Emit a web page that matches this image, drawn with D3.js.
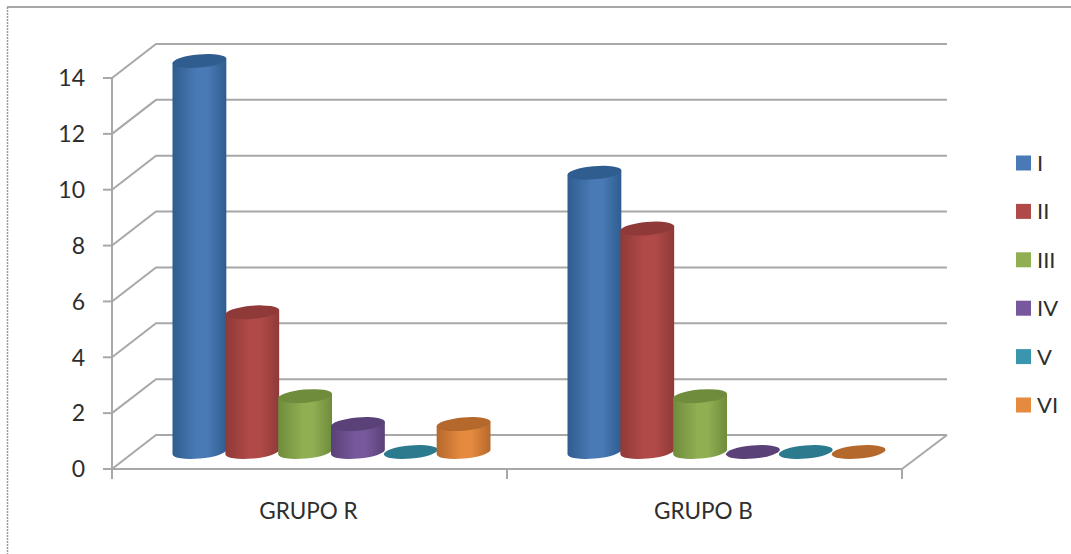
<!DOCTYPE html>
<html>
<head>
<meta charset="utf-8">
<script src="https://cdnjs.cloudflare.com/ajax/libs/d3/7.8.5/d3.min.js"></script>
<style>
  html, body { margin: 0; padding: 0; background: #fff; }
  svg { display: block; }
  text { font-family: Lato, "Open Sans", sans-serif; fill: #2e2e2e; }
</style>
</head>
<body>
<svg id="chart" width="1071" height="554"></svg>
<script>
// Chart data
const groups = ["GRUPO R", "GRUPO B"];
const seriesNames = ["I", "II", "III", "IV", "V", "VI"];
const grupoR = [14, 5, 2, 1, 0, 1];
const grupoB = [10, 8, 2, 0, 0, 0];
const yTicks = [0, 2, 4, 6, 8, 10, 12, 14];

// Series colours: legend/side tone and the darker cap tone
const sideColors = ["#4a7ab5", "#b04a48", "#90ae52", "#77589c", "#3a96ae", "#e58a3e"];
const capColors = ["#2f5d90", "#8f3a38", "#6f8c3c", "#5a4178", "#2c7a8e", "#b5682c"];

const svg = d3.select("#chart");

// Oblique projection: front plane plus a depth offset for the back wall
const depthX = 44, depthY = -34;
const x = d3.scaleBand().domain(groups).range([112, 902]);
const y = d3.scaleLinear().domain([0, 14]).range([469, 78]);
const inner = d3.scaleBand().domain(seriesNames).range([39, 356]);
const gridColor = "#a8a8a8";
const axisBottom = y(0) + 10;

// Outer chart frame (top and left edges only)
svg.append("line").attr("x1", 7).attr("x2", 1071).attr("y1", 7).attr("y2", 7)
  .attr("stroke", "#8a8a8a").attr("stroke-width", 1.5);
svg.append("line").attr("x1", 7.5).attr("x2", 7.5).attr("y1", 7).attr("y2", 554)
  .attr("stroke", "#9a9a9a").attr("stroke-width", 1.5).attr("stroke-dasharray", "2 1");

// Back-wall gridlines with their side-wall returns
const wall = svg.append("g").attr("fill", "none").attr("stroke", gridColor).attr("stroke-width", 2);
yTicks.forEach(t => {
  wall.append("path").attr("d", d3.line()([
    [x.range()[0], y(t)],
    [x.range()[0] + depthX, y(t) + depthY],
    [x.range()[1] + depthX + 1, y(t) + depthY]
  ]));
});
// Floor edge on the right
wall.append("path").attr("d", d3.line()([
  [x.range()[1], y(0)],
  [x.range()[1] + depthX + 1, y(0) + depthY]
]));

// Front axes
const axes = svg.append("g").attr("stroke", gridColor).attr("stroke-width", 2);
axes.append("line").attr("x1", 112).attr("x2", 112).attr("y1", y(14)).attr("y2", axisBottom);
axes.append("line").attr("x1", 103).attr("x2", 902).attr("y1", y(0)).attr("y2", y(0));
yTicks.forEach(t => {
  axes.append("line").attr("x1", 103).attr("x2", 112).attr("y1", y(t)).attr("y2", y(t));
});
[...groups.map(g => x(g)), x.range()[1]].forEach(px => {
  axes.append("line").attr("x1", px).attr("x2", px).attr("y1", y(0)).attr("y2", axisBottom);
});

// Value labels
svg.append("g").selectAll("text").data(yTicks).join("text")
  .attr("x", 85).attr("y", d => y(d)).attr("dy", "0.36em")
  .attr("text-anchor", "end").attr("font-size", 23)
  .text(d => d);

// Category labels
svg.append("g").selectAll("text").data(groups).join("text")
  .attr("x", d => x(d) + x.bandwidth() / 2 - 1).attr("y", 519)
  .attr("text-anchor", "middle").attr("font-size", 22.5)
  .text(d => d);

// Cylinder shading, dark at the edges and lighter toward the centre
const defs = svg.append("defs");
sideColors.forEach((c, i) => {
  const g = defs.append("linearGradient").attr("id", "cyl" + i);
  g.append("stop").attr("offset", "0%").attr("stop-color", capColors[i]);
  g.append("stop").attr("offset", "45%").attr("stop-color", c);
  g.append("stop").attr("offset", "65%").attr("stop-color", c);
  g.append("stop").attr("offset", "100%").attr("stop-color", capColors[i]);
});

// Cylinders: tilted elliptical caps sitting at mid depth
const tiltDeg = 5;
const tilt = tiltDeg * Math.PI / 180;
const a = inner.bandwidth() / 2 + 0.6, b = 6.6;
const dx = a * Math.cos(tilt), dy = a * Math.sin(tilt);
const rows = [grupoR, grupoB];

groups.forEach((group, gi) => {
  const g = svg.append("g");
  seriesNames.forEach((name, si) => {
    const value = rows[gi][si];
    const cx = x(group) + inner(name) + inner.bandwidth() / 2 + depthX / 2;
    const base = y(0) + depthY / 2;
    const top = y(value) + depthY / 2;
    if (value > 0) {
      g.append("path")
        .attr("fill", `url(#cyl${si})`)
        .attr("d", `M${cx - dx},${top + dy}L${cx - dx},${base + dy}` +
          `A${a},${b} ${-tiltDeg} 0 0 ${cx + dx},${base - dy}L${cx + dx},${top - dy}Z`);
    }
    g.append("ellipse")
      .attr("rx", a).attr("ry", b)
      .attr("transform", `translate(${cx},${top}) rotate(${-tiltDeg})`)
      .attr("fill", capColors[si]);
  });
});

// Legend
const legendY = d3.scalePoint().domain(seriesNames).range([163, 405]);
const legend = svg.append("g").selectAll("g").data(seriesNames).join("g")
  .attr("transform", d => `translate(1016,${legendY(d)})`);
legend.append("rect").attr("x", 0).attr("y", -7.5).attr("width", 15).attr("height", 15)
  .attr("fill", (d, i) => sideColors[i]);
legend.append("text").attr("x", 21).attr("dy", "0.36em").attr("font-size", 22)
  .text(d => d);
</script>
</body>
</html>
